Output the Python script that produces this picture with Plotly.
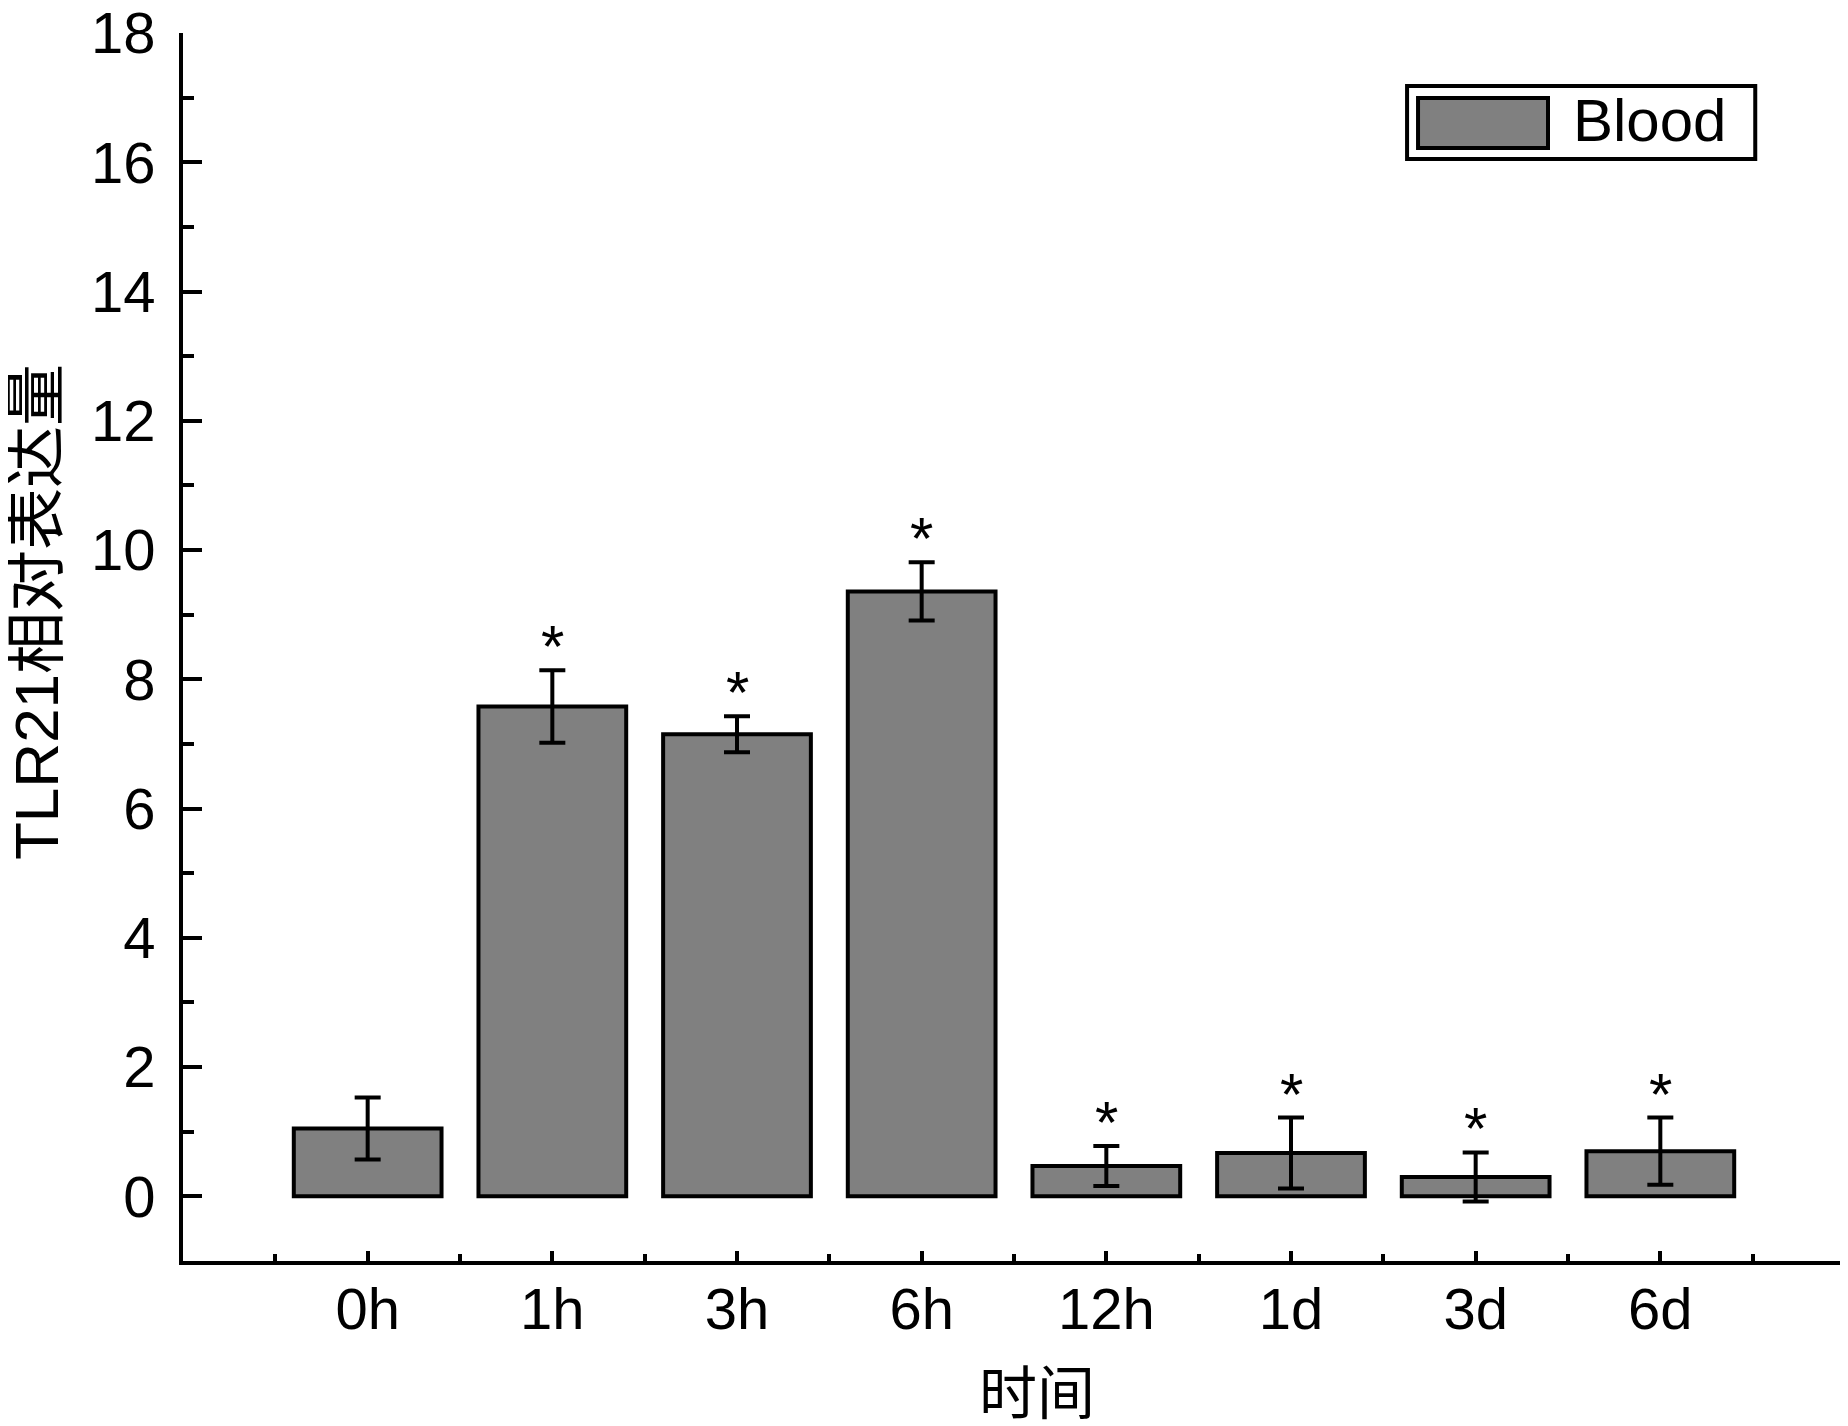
import plotly.graph_objects as go

# time points and TLR21 relative expression (mean, error)
TIMES = ["0h", "1h", "3h", "6h", "12h", "1d", "3d", "6d"]
MEANS = [1.05, 7.58, 7.15, 9.36, 0.47, 0.67, 0.30, 0.70]
ERRORS = [0.48, 0.56, 0.28, 0.45, 0.31, 0.55, 0.38, 0.52]
SIGNIF = ["", "*", "*", "*", "*", "*", "*", "*"]
SERIES = "Blood"
Y_TICKS = [0, 2, 4, 6, 8, 10, 12, 14, 16, 18]

FONT = "Liberation Sans, Arial, Noto Sans CJK SC, sans-serif"
CJK_FONT = "Liberation Sans, Noto Sans CJK SC, sans-serif"

x = list(range(len(TIMES)))

fig = go.Figure()
fig.add_trace(go.Bar(
    x=x,
    y=MEANS,
    name=SERIES,
    width=0.8,
    marker=dict(color="#808080", line=dict(color="black", width=4)),
    error_y=dict(type="data", array=ERRORS, visible=True,
                 color="black", thickness=4, width=13),
    showlegend=False,
))

# significance stars above the error bars
for xi, m, e, s in zip(x, MEANS, ERRORS, SIGNIF):
    if s:
        fig.add_annotation(x=xi, y=m + e, text=s, showarrow=False,
                           xref="x", yref="y", yanchor="bottom",
                           yshift=-12, font=dict(family=FONT, size=60, color="black"))

# axis titles
fig.add_annotation(text="TLR21相对表达量", textangle=-90, showarrow=False,
                   xref="paper", yref="paper", x=0, y=0.5285,
                   xanchor="center", yanchor="middle", xshift=-147,
                   font=dict(family=CJK_FONT, size=62, color="black"))
fig.add_annotation(text="时间", showarrow=False,
                   xref="paper", yref="paper", x=0.514, y=0,
                   xanchor="center", yanchor="middle", yshift=-132,
                   font=dict(family=CJK_FONT, size=58, color="black"))

# legend drawn by hand to get the large swatch
fig.add_shape(type="rect", xref="paper", yref="paper",
              x0=0.7365, x1=0.9460, y0=0.8974, y1=0.9568,
              line=dict(color="black", width=4), fillcolor="white")
fig.add_shape(type="rect", xref="paper", yref="paper",
              x0=0.7431, x1=0.8213, y0=0.9063, y1=0.9471,
              line=dict(color="black", width=4), fillcolor="#808080")
fig.add_annotation(text=SERIES, showarrow=False, xref="paper", yref="paper",
                   x=0.8350, y=0.9285, xanchor="left", yanchor="middle",
                   font=dict(family=FONT, size=60, color="black"))

# the page body has an 8px margin, so the figure is 8px smaller than the window
fig.update_layout(
    width=1840,
    height=1418,
    margin=dict(l=175, r=3, t=25, b=165, pad=0, autoexpand=False),
    plot_bgcolor="white",
    paper_bgcolor="white",
    font=dict(family=FONT, size=58, color="black"),
    bargap=0.2,
)

fig.update_xaxes(
    range=[-1, 8],
    automargin=False,
    tickmode="array",
    tickvals=x + [len(TIMES)],
    ticktext=TIMES + [""],
    ticks="inside", ticklen=10, tickwidth=4, tickcolor="black",
    showline=True, linewidth=4, linecolor="black",
    showgrid=False, zeroline=False,
    tickfont=dict(family=FONT, size=58),
    ticklabelstandoff=-6,
    ticklabeloverflow="allow",
    minor=dict(tickmode="array", tickvals=[i - 0.5 for i in range(len(TIMES) + 1)],
               ticks="inside", ticklen=7, tickwidth=4, tickcolor="black", showgrid=False),
)
fig.update_yaxes(
    range=[-1, 18],
    automargin=False,
    tickmode="array", tickvals=Y_TICKS,
    ticks="inside", ticklen=19, tickwidth=4, tickcolor="black",
    showline=True, linewidth=4, linecolor="black",
    showgrid=False, zeroline=False,
    tickfont=dict(family=FONT, size=58),
    ticklabelstandoff=12,
    ticklabeloverflow="allow",
    minor=dict(dtick=1, tick0=0, ticks="inside", ticklen=11, tickwidth=4,
               tickcolor="black", showgrid=False),
)

fig.write_html("out.html")
